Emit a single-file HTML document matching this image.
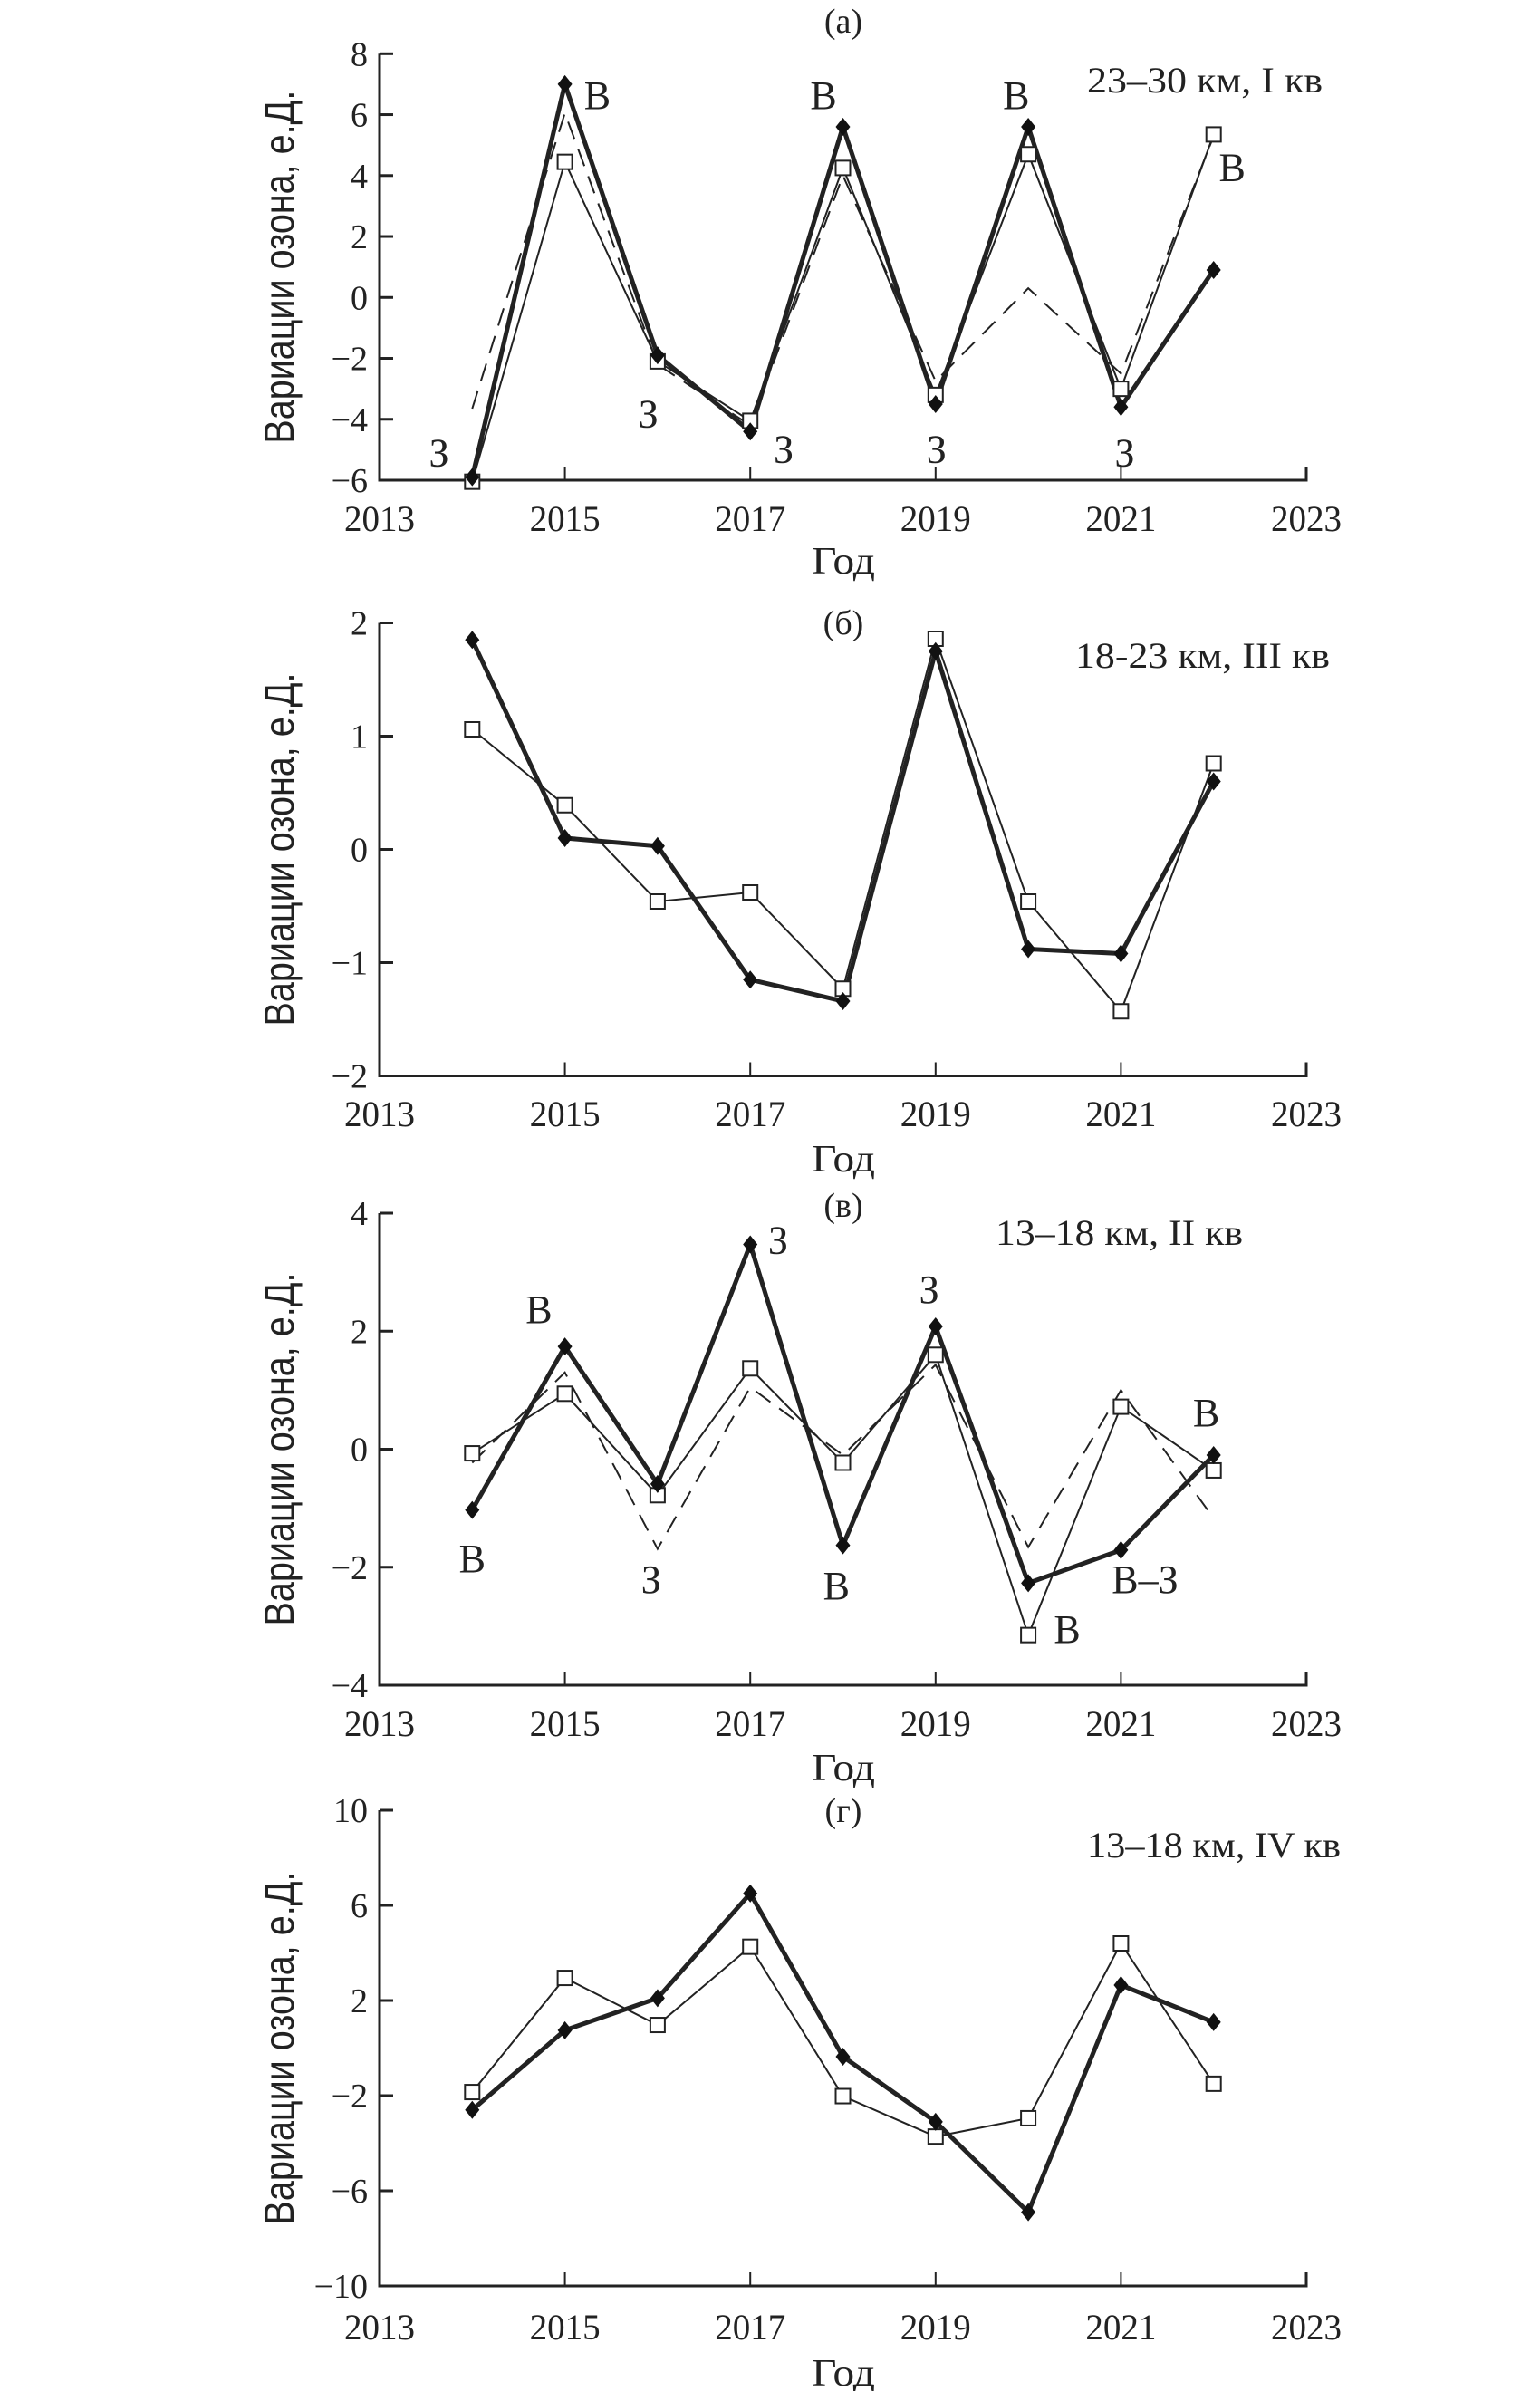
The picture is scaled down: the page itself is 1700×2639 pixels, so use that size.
<!DOCTYPE html>
<html><head><meta charset="utf-8"><style>
html,body{margin:0;padding:0;background:#fff;}
svg{display:block;}
text{font-family:"Liberation Serif","DejaVu Serif",serif;fill:#222;}
.yt{font-family:"Liberation Sans","DejaVu Sans",sans-serif;}
</style></head><body>
<svg id="fig" width="1700" height="2639" viewBox="0 0 1700 2639" xmlns="http://www.w3.org/2000/svg"></svg>
<script>
const years = [2014,2015,2016,2017,2018,2019,2020,2021,2022];
const xTickLabels = ['2013','2015','2017','2019','2021','2023'];
// panel (a)
const aThick  = [-5.9,7.0,-1.9,-4.4,5.6,-3.5,5.6,-3.6,0.9];
const aThin   = [-6.05,4.45,-2.1,-4.05,4.25,-3.2,4.7,-3.0,5.35];
const aDashed = [-3.65,6.05,-2.2,-4.2,4.0,-2.75,0.3,-2.5,5.3];
const aTicks  = [8,6,4,2,0,-2,-4,-6];
const aLabelText = ['З','В','З','З','В','З','В','З','В'];
const aLabelYear = [2013.64,2015.35,2015.9,2017.36,2017.79,2019.01,2019.87,2021.04,2022.2];
const aLabelVal  = [-5.1,6.64,-3.81,-4.97,6.64,-4.97,6.64,-5.1,4.28];
// panel (b)
const bThick = [1.85,0.1,0.03,-1.15,-1.34,1.75,-0.88,-0.92,0.6];
const bThin  = [1.06,0.39,-0.46,-0.38,-1.23,1.86,-0.46,-1.43,0.76];
const bTicks = [2,1,0,-1,-2];
// panel (c)
const cThick  = [-1.03,1.74,-0.59,3.47,-1.63,2.08,-2.27,-1.71,-0.1];
const cThin   = [-0.07,0.94,-0.78,1.37,-0.23,1.6,-3.15,0.72,-0.36];
const cDashed = [-0.23,1.3,-1.69,1.05,-0.1,1.43,-1.66,1.0,-1.17];
const cTicks  = [4,2,0,-2,-4];
const cLabelText = ['В','В','З','З','В','З','В','В–З','В'];
const cLabelYear = [2014.0,2014.72,2015.93,2017.3,2017.93,2018.93,2020.42,2021.26,2021.92];
const cLabelVal  = [-1.85,2.37,-2.2,3.55,-2.31,2.71,-3.05,-2.2,0.62];
// panel (d)
const dThick = [-2.6,0.75,2.1,6.5,-0.36,-3.1,-6.9,2.65,1.09];
const dThin  = [-1.85,2.95,0.97,4.26,-2.02,-3.72,-2.95,4.4,-1.5];
const dTicks = [10,6,2,-2,-6,-10];

const NS='http://www.w3.org/2000/svg';
const svg=document.getElementById('fig');
function mk(tag,attrs,parent,txt){const e=document.createElementNS(NS,tag);for(const k in attrs)e.setAttribute(k,attrs[k]);if(txt!==undefined)e.textContent=txt;(parent||svg).appendChild(e);return e;}

const X0=419,X1=1442;
function xs(yr){return X0+(yr-2013)*(X1-X0)/10;}

function panel(cfg){
  const g=mk('g',{});
  
  
  const ymax=cfg.ticks[0], ymin=cfg.ticks[cfg.ticks.length-1];
  const ys=v=>cfg.yTop+(ymax-v)*(cfg.yBot-cfg.yTop)/(ymax-ymin);
  const ax=mk('path',{d:`M${X0},${cfg.yTop} L${X0},${cfg.yBot} L${X1},${cfg.yBot} L${X1},${cfg.yBot-15}`,fill:'none',stroke:'#222','stroke-width':3},g);
  
  
  cfg.ticks.forEach(t=>{
    mk('line',{x1:X0,x2:X0+15,y1:ys(t),y2:ys(t),stroke:'#222','stroke-width':3},g);
    const tl=mk('text',{x:406,y:ys(t)+13,'text-anchor':'end','font-size':38},g,(t<0?'\u2212'+(-t):''+t));
    
    
  });
  xTickLabels.forEach(l=>{
    const yr=+l;
    if(yr>2013&&yr<2023) mk('line',{x1:xs(yr),x2:xs(yr),y1:cfg.yBot,y2:cfg.yBot-15,stroke:'#222','stroke-width':2},g);
    const tl=mk('text',{x:xs(yr),y:cfg.yearY+14,'text-anchor':'middle','font-size':40,textLength:78,lengthAdjust:'spacingAndGlyphs'},g,l);
    
    
  });
  const xt=mk('text',{x:931,y:cfg.godY+14,'text-anchor':'middle','font-size':42,textLength:70,lengthAdjust:'spacingAndGlyphs'},g,'Год');
  
  
  const tt=mk('text',{x:931,y:cfg.titleY+13,'text-anchor':'middle','font-size':38},g,cfg.title);
  
  
  const an=mk('text',{x:cfg.annX,y:cfg.annY+14,'font-size':40,textLength:cfg.annW,lengthAdjust:'spacingAndGlyphs'},g,cfg.ann);
  
  
  const yc=(cfg.yTop+cfg.yBot)/2;
  const yt=mk('text',{class:'yt',x:0,y:0,'text-anchor':'middle','font-size':46,textLength:cfg.ytLen,lengthAdjust:'spacingAndGlyphs',transform:`translate(324,${yc}) rotate(-90)`},g,'Вариации озона, е.Д.');
  
  
  function line(vals,w,dash,name){
    const p=mk('polyline',{points:vals.map((v,i)=>xs(years[i])+','+ys(v)).join(' '),fill:'none',stroke:'#222','stroke-width':w,'stroke-linejoin':'miter','stroke-dasharray':dash||'none'},g);
    
    
  }
  if(cfg.dashed) line(cfg.dashed,2,'20,12','dashed-series');
  line(cfg.thin,2,null,'thin-series');
  line(cfg.thick,5,null,'thick-series');
  cfg.thin.forEach((v,i)=>{
    const s=mk('rect',{x:xs(years[i])-8,y:ys(v)-8,width:16,height:16,fill:'#fff',stroke:'#222','stroke-width':2},g);
    
    
  });
  cfg.thick.forEach((v,i)=>{
    const x=xs(years[i]),y=ys(v);
    const d=mk('path',{d:`M${x},${y-10} L${x+8},${y} L${x},${y+10} L${x-8},${y} Z`,fill:'#111'},g);
    
    
  });
  if(cfg.labText) cfg.labText.forEach((t,i)=>{
    const l=mk('text',{x:xs(cfg.labYear[i]),y:ys(cfg.labVal[i])+15,'text-anchor':'middle','font-size':44},g,t);
    
    
  });
}

panel({name:'panel-a',title:'(а)',ticks:aTicks,yTop:59.3,yBot:530,yearY:572,godY:619,titleY:23,
  ann:'23–30 км, I кв',annX:1200,annY:88,annW:260,ytLen:390,
  thick:aThick,thin:aThin,dashed:aDashed,labText:aLabelText,labYear:aLabelYear,labVal:aLabelVal});
panel({name:'panel-b',title:'(б)',ticks:bTicks,yTop:687.5,yBot:1187.5,yearY:1229,godY:1279,titleY:687,
  ann:'18-23 км, III кв',annX:1187,annY:723,annW:281,ytLen:390,
  thick:bThick,thin:bThin});
panel({name:'panel-c',title:'(в)',ticks:cTicks,yTop:1339,yBot:1860,yearY:1902,godY:1951,titleY:1330,
  ann:'13–18 км, II кв',annX:1099,annY:1360,annW:273,ytLen:390,
  thick:cThick,thin:cThin,dashed:cDashed,labText:cLabelText,labYear:cLabelYear,labVal:cLabelVal});
panel({name:'panel-d',title:'(г)',ticks:dTicks,yTop:1998,yBot:2523,yearY:2568,godY:2619,titleY:1998,
  ann:'13–18 км, IV кв',annX:1200,annY:2036,annW:280,ytLen:390,
  thick:dThick,thin:dThin});
</script>
</body></html>
